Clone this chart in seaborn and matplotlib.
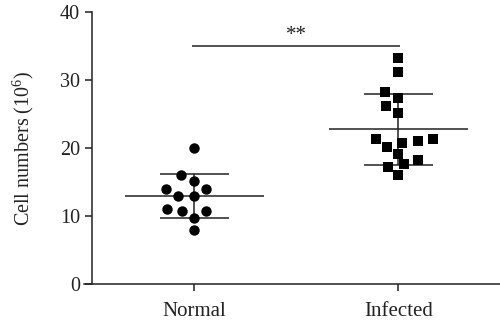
import numpy as np
import pandas as pd
import matplotlib
matplotlib.use("Agg")
import matplotlib.pyplot as plt
import seaborn as sns

categories = ["Normal", "Infected"]
normal_values = [20, 16, 15.2, 14, 14, 13, 13, 10.7, 10.7, 11.1, 9.7, 8]
infected_values = [33.2, 31.2, 28.2, 27.3, 26.2, 25.2, 21.3, 21.0, 20.2, 20.8,
                   21.3, 19.1, 17.6, 17.2, 18.2, 16.0]
y_ticks = [0, 10, 20, 30, 40]
sig_label = "**"

sns.set_theme(style="ticks")
plt.rcParams["font.family"] = ["Liberation Serif", "DejaVu Serif"]
plt.rcParams["mathtext.fontset"] = "custom"
plt.rcParams["mathtext.rm"] = "Liberation Serif"
plt.rcParams["mathtext.default"] = "regular"

df = pd.DataFrame({
    "group": ["Normal"] * len(normal_values) + ["Infected"] * len(infected_values),
    "value": normal_values + infected_values,
})

fig = plt.figure(figsize=(5.0, 3.23), dpi=100)
ax = fig.add_axes([84 / 500, 39 / 323, 416 / 500, 272 / 323])

markers = {"Normal": "o", "Infected": "s"}
for cat in categories:
    sub = df[df["group"] == cat]
    sns.swarmplot(data=sub, x="group", y="value", order=categories, ax=ax,
                  color="black", marker=markers[cat], size=7.5, linewidth=0)

ax.set_xlim(-0.541, 1.499)
ax.set_ylim(0, 40)

# let seaborn lay out the swarm once, then widen the spacing a bit (GraphPad-like)
fig.canvas.draw()
for coll in ax.collections:
    offs = coll.get_offsets()
    if len(offs) == 0:
        continue
    offs = np.asarray(offs, dtype=float)
    center = np.round(np.median(offs[:, 0]))
    offs[:, 0] = center + (offs[:, 0] - center) * 1.45
    if "draw" in coll.__dict__:
        del coll.draw
    coll.set_offsets(offs)

lc = "#222222"
for i, cat in enumerate(categories):
    vals = np.array(df.loc[df["group"] == cat, "value"])
    m = vals.mean()
    s = vals.std(ddof=1)
    ax.hlines(m, i - 0.34, i + 0.34, color=lc, lw=1.1, zorder=1)
    ax.hlines([m - s, m + s], i - 0.17, i + 0.17, color=lc, lw=1.1, zorder=1)
    ax.vlines(i, m - s, m + s, color=lc, lw=1.1, zorder=1)

# significance bar
ax.hlines(35, -0.012, 1.008, color=lc, lw=1.1)
ax.text(0.5, 35.1, sig_label, ha="center", va="bottom", fontsize=15, color="#222222")

ax.set_yticks(y_ticks)
ax.set_xlabel("")
ax.set_ylabel("Cell numbers (10$^{6}$)", fontsize=14.5, color="#222222", labelpad=17)
ax.spines["top"].set_visible(False)
ax.spines["right"].set_visible(False)
ax.spines["left"].set_position(("axes", 0.019))
for sp in ["left", "bottom"]:
    ax.spines[sp].set_color(lc)
    ax.spines[sp].set_linewidth(1.1)
ax.tick_params(axis="both", length=5, width=1.1, color=lc, labelsize=14.5,
               labelcolor="#222222")
ax.tick_params(axis="x", labelsize=15, pad=8)

fig.savefig("out.png", dpi=100)
